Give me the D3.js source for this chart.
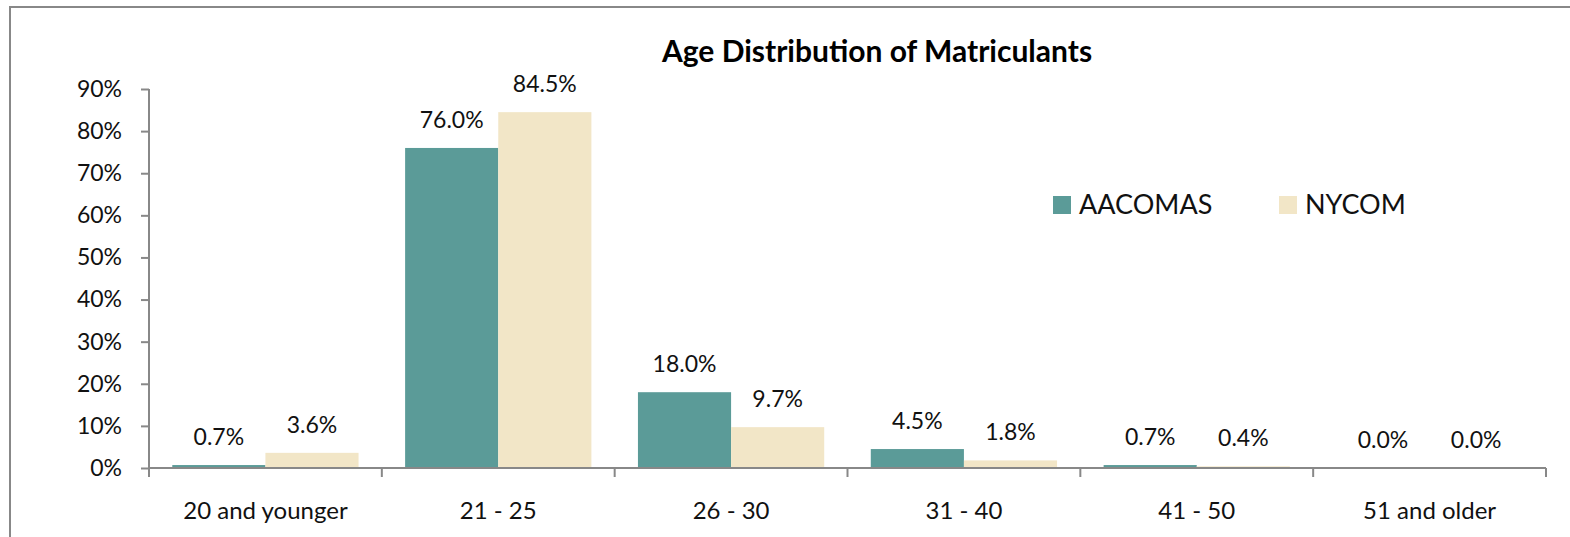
<!DOCTYPE html>
<html>
<head>
<meta charset="utf-8">
<script src="https://cdn.jsdelivr.net/npm/d3@7"></script>
<style>
  html, body { margin: 0; padding: 0; background: #fff; }
  svg { display: block; font-family: Lato, "Open Sans", sans-serif; }
</style>
</head>
<body>
<div id="chart"></div>
<script>
// Datos
const categories = ['20 and younger', '21 - 25', '26 - 30', '31 - 40', '41 - 50', '51 and older'];
const seriesNames = ['AACOMAS', 'NYCOM'];
const aacomas = [0.7, 76.0, 18.0, 4.5, 0.7, 0.0];
const nycom = [3.6, 84.5, 9.7, 1.8, 0.4, 0.0];
const yTicks = [0, 10, 20, 30, 40, 50, 60, 70, 80, 90];
const colors = ['#5b9b98', '#f2e6c7'];

const width = 1570, height = 537;
const margin = { top: 89, right: 24, bottom: 69, left: 149 };
const fontSize = '23px';

const svg = d3.select('#chart').append('svg')
    .attr('width', width)
    .attr('height', height);

// Marco del gráfico
svg.append('rect')
    .attr('x', 10).attr('y', 7)
    .attr('width', width + 20).attr('height', height + 20)
    .attr('fill', 'none')
    .attr('stroke', '#888')
    .attr('stroke-width', 2);

const x0 = d3.scaleBand()
    .domain(categories)
    .range([margin.left, width - margin.right])
    .padding(0);

const x1 = d3.scaleBand()
    .domain(seriesNames)
    .range([0, x0.bandwidth()])
    .paddingOuter(0.25)
    .paddingInner(0);

const y = d3.scaleLinear()
    .domain([0, 90])
    .range([height - margin.bottom, margin.top]);

const data = categories.map((c, i) => ({
    cat: c,
    values: [
        { name: seriesNames[0], v: aacomas[i] },
        { name: seriesNames[1], v: nycom[i] }
    ]
}));

// Barras
const groups = svg.append('g')
    .selectAll('g')
    .data(data)
    .join('g')
    .attr('transform', d => `translate(${x0(d.cat)},0)`);

groups.selectAll('rect')
    .data(d => d.values)
    .join('rect')
    .attr('x', d => x1(d.name))
    .attr('y', d => y(d.v))
    .attr('width', x1.bandwidth())
    .attr('height', d => y(0) - y(d.v))
    .attr('fill', (d, i) => colors[i]);

groups.selectAll('text')
    .data(d => d.values)
    .join('text')
    .attr('x', d => x1(d.name) + x1.bandwidth() / 2)
    .attr('y', d => y(d.v) - 20)
    .attr('text-anchor', 'middle')
    .attr('font-size', fontSize)
    .attr('fill', '#111')
    .text(d => d.v.toFixed(1) + '%');

// Eje Y
const yAxis = svg.append('g')
    .attr('transform', `translate(${margin.left},0)`)
    .call(d3.axisLeft(y).tickValues(yTicks).tickSize(8).tickFormat(d => d + '%'));
yAxis.selectAll('path, line').attr('stroke', '#888').attr('stroke-width', 2);
yAxis.select('.domain').attr('d', `M0,${y(0)}V${y(90)}`);
yAxis.selectAll('text')
    .attr('font-size', fontSize)
    .attr('fill', '#111')
    .attr('font-family', 'Lato, "Open Sans", sans-serif')
    .attr('x', -27);

// Eje X
const xAxis = svg.append('g')
    .attr('transform', `translate(0,${y(0)})`)
    .call(d3.axisBottom(x0).tickSize(0).tickPadding(34));
xAxis.selectAll('path').attr('stroke', '#888').attr('stroke-width', 2);
xAxis.select('.domain').attr('d', `M${margin.left},0H${width - margin.right}`);
xAxis.selectAll('text')
    .attr('font-size', '24px')
    .attr('fill', '#111')
    .attr('font-family', 'Lato, "Open Sans", sans-serif');

// Marcas entre categorías
const boundaries = categories.map(c => x0(c)).concat([width - margin.right]);
svg.append('g')
    .selectAll('line')
    .data(boundaries)
    .join('line')
    .attr('x1', d => d).attr('x2', d => d)
    .attr('y1', y(0)).attr('y2', y(0) + 9)
    .attr('stroke', '#888')
    .attr('stroke-width', 2);

// Título
svg.append('text')
    .attr('x', 877)
    .attr('y', 62)
    .attr('text-anchor', 'middle')
    .attr('font-size', '30px')
    .attr('font-weight', 'bold')
    .attr('fill', '#000')
    .text('Age Distribution of Matriculants');

// Leyenda
const legendX = [1053, 1279];
const legend = svg.append('g')
    .selectAll('g')
    .data(seriesNames)
    .join('g')
    .attr('transform', (d, i) => `translate(${legendX[i]},196)`);
legend.append('rect')
    .attr('width', 18).attr('height', 18)
    .attr('fill', (d, i) => colors[i]);
legend.append('text')
    .attr('x', 26).attr('y', 18)
    .attr('font-size', '27px')
    .attr('fill', '#111')
    .text(d => d);
</script>
</body>
</html>
